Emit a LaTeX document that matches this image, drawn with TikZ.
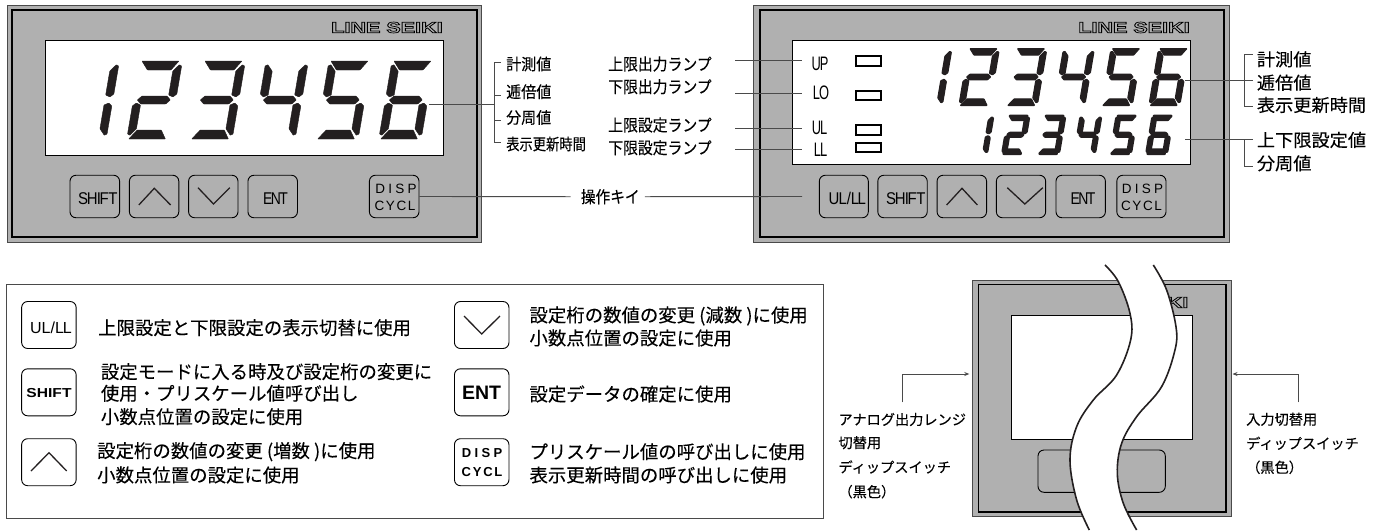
\documentclass[tikz,border=0pt]{standalone}
\usepackage{fontspec}
\usepackage{graphicx}
\usetikzlibrary{arrows.meta}
\setmainfont{Liberation Sans}
\newfontfamily\jpf[FakeBold=0.15]{Noto Sans CJK JP}
\newfontfamily\spA[LetterSpace=24]{Liberation Sans}
\newfontfamily\spB[LetterSpace=12]{Liberation Sans}
\newfontfamily\spAb[LetterSpace=26,BoldFont={Liberation Sans Bold}]{Liberation Sans}
\newfontfamily\spBb[LetterSpace=14,BoldFont={Liberation Sans Bold}]{Liberation Sans}
\definecolor{panelgray}{HTML}{B0B0B0}
\definecolor{ink}{HTML}{231F20}
\definecolor{rule}{HTML}{4A4A4A}
\newcommand\fsz[1]{\fontsize{#1}{#1}\selectfont}
\newcommand\hs[2]{\scalebox{#1}[1]{#2}}
\newcommand\outl[1]{\special{pdf:code 1 Tr 0.7 w}#1\special{pdf:code 0 Tr 0.4 w}}
\newcommand\brand[1]{\hs{1.4}{\outl{\fsz{15.4}\bfseries #1}}}
\newcommand\tightS{\hs{0.88}{\fsz{17}S\kern-1.4pt H\kern-0.8pt I\kern-1.6pt F\kern-0.6pt T}}
\newcommand\tightE{\hs{0.82}{\fsz{17}E\kern-2pt N\kern-2pt T}}
\newcommand\tightC[2]{\hs{0.66}{\fsz{19.5}#1\kern-1.5pt #2}}
\def\sega{(2,78)--(39,78)--(32.5,69)--(9,69)--cycle}
\def\segb{(42.5,73)--(42.5,45)--(39,42)--(34.5,44)--(34.5,67.7)--(40,74.3)--cycle}
\def\segc{(42.5,33)--(42.5,5)--(40,3.7)--(34.5,10.3)--(34.5,34)--(39,36)--cycle}
\def\segd{(2,0)--(38.7,0)--(33,9)--(9,9)--cycle}
\def\sege{(0,33)--(0,5)--(2.5,3.7)--(8,10.3)--(8,34)--(3.5,36)--cycle}
\def\segf{(0,73)--(0,45)--(3.5,42)--(8,44)--(8,67.7)--(2.5,74.3)--cycle}
\def\segg{(8,43)--(33,43)--(37,39)--(33,35)--(8,35)--(4,39)--cycle}
\newcommand\sevenseg[5]{%
  \pgfmathsetmacro\slantv{0.17*#3}%
  \begin{scope}[cm={#3,0,\slantv,#3,(#1,#2)},x=1pt,y=1pt]
    \foreach \s in {#4}{\filldraw[digitseg=#5] \csname seg\s\endcsname;}
  \end{scope}}
\newcommand\sixdigits[5]{% x of first, bottom y, scale, pitch, stroke
  \pgfmathsetmacro\xa{#1}\pgfmathsetmacro\xb{#1+#4}\pgfmathsetmacro\xc{#1+2*#4}%
  \pgfmathsetmacro\xd{#1+3*#4}\pgfmathsetmacro\xe{#1+4*#4}\pgfmathsetmacro\xf{#1+5*#4}%
  \sevenseg{\xa}{#2}{#3}{b,c}{#5}
  \sevenseg{\xb}{#2}{#3}{a,b,g,e,d}{#5}
  \sevenseg{\xc}{#2}{#3}{a,b,g,c,d}{#5}
  \sevenseg{\xd}{#2}{#3}{f,b,g,c}{#5}
  \sevenseg{\xe}{#2}{#3}{a,f,g,c,d}{#5}
  \sevenseg{\xf}{#2}{#3}{a,f,g,e,c,d}{#5}}
\tikzset{
  digitseg/.style={fill=ink,draw=ink,line width=#1,line join=round,rounded corners=0.5pt},
  shellout/.style={draw=rule,line width=0.8pt,fill=panelgray},
  shellin/.style={draw=black,line width=1.5pt,fill=panelgray},
  window/.style={draw=black,line width=1pt,fill=white},
  keybox/.style={draw=black,line width=0.9pt,rounded corners=6pt,inner sep=0pt,minimum width=#1,minimum height=42.5pt},
  keybig/.style={draw=black,line width=0.9pt,rounded corners=6pt,inner sep=0pt,minimum width=54.5pt,minimum height=47pt,fill=white},
  chev/.style={draw=ink,line width=1.3pt},
  lamp/.style={draw=black,line width=2pt,fill=white},
  lead/.style={draw=rule,line width=0.9pt},
  plain/.style={inner sep=0pt,anchor=center},
  lab/.style={inner sep=0pt,anchor=west,font=\jpf\fsz{#1}},
  lab/.default=16,
  wave/.style={draw=ink,line width=1.6pt},
  tip/.style={-{Stealth[length=5pt,width=4pt]}}
}
\begin{document}
\begin{tikzpicture}[x=1pt,y=-1pt]
\useasboundingbox (0,0) rectangle (1383,531);
\fill[white] (0,0) rectangle (1383,531);
% ---------- front panel 1
\draw[shellout] (7,5.5) rectangle (481.5,242);
\draw[shellin] (12,10) rectangle (477,237);
\draw[window] (45.7,40.7) rectangle (443,155);
\node[plain] (brandA) at (387,27.5) {\brand{LINE SEIKI}};
\sixdigits{63.7}{139}{1}{63}{0.4pt}
\node[keybox=49.6pt] (ka1) at (94.8,196.5) {};
\node[keybox=49.4pt] (ka2) at (154.1,196.5) {};
\node[keybox=49.4pt] (ka3) at (213.3,196.5) {};
\node[keybox=49.5pt] (ka4) at (272.7,196.5) {};
\node[keybox=49.6pt] (ka5) at (394.2,196.5) {};
\node[plain] (ta1) at (97.8,198.5) {\tightS};
\draw[chev] (138.8,205) -- (154.3,188.3) -- (170.6,205);
\draw[chev] (198,187.7) -- (213.5,204) -- (229.8,187.7);
\node[plain] (ta4) at (275.5,198.5) {\tightE};
\node[plain] (ta5a) at (396,189) {\spA\fsz{13.5}DISP};
\node[plain] (ta5b) at (395,205.5) {\spB\fsz{13.5}CYCL};
% right labels of panel 1
\coordinate (p1m) at (429,104);
\coordinate (p1b) at (494,104);
\draw[lead] (p1m) -- (p1b);
\draw[lead] (501,62.5) -- (494,62.5) -- (494,142.5) -- (501,142.5);
\draw[lead] (494,95) -- (501,95);
\draw[lead] (494,120) -- (501,120);
\node[lab] (a1) at (506,64) {\hs{0.94}{計測値}};
\node[lab] (a2) at (506,91.7) {\hs{0.94}{逓倍値}};
\node[lab] (a3) at (506,117.5) {\hs{0.94}{分周値}};
\node[lab] (a4) at (506,144) {\hs{0.83}{表示更新時間}};
% ---------- middle labels
\node[lab=16.5] (m1) at (608,64) {\hs{0.9}{上限出力ランプ}};
\node[lab=16.5] (m2) at (608,86.7) {\hs{0.9}{下限出力ランプ}};
\node[lab=16.5] (m3) at (608,125) {\hs{0.9}{上限設定ランプ}};
\node[lab=16.5] (m4) at (608,147.7) {\hs{0.9}{下限設定ランプ}};
\node[lab=16.5] (op) at (580.7,196.7) {\hs{0.89}{操作キイ}};
\draw[lead] (ka5.east) -- ([xshift=-10pt]op.west);
% ---------- front panel 2
\draw[shellout] (753.7,5.5) rectangle (1229,242);
\draw[shellin] (760,10) rectangle (1224,237);
\draw[window] (792.6,40.7) rectangle (1190.7,164);
\node[plain] (brandB) at (1134,27.5) {\brand{LINE SEIKI}};
\sixdigits{911.3}{105.5}{0.73}{47.5}{1pt}
\sixdigits{966.1}{153.9}{0.49}{36}{2.2pt}
\node[plain] (up) at (820,64) {\tightC{U}{P}};
\node[plain] (lo) at (821,92.3) {\tightC{L}{O}};
\node[plain] (ul) at (819.5,127.5) {\tightC{U}{L}};
\node[plain] (ll) at (820.5,149.3) {\tightC{L}{L}};
\draw[lamp] (855.5,55.5) rectangle (880.5,65.5);
\draw[lamp] (855.5,90.7) rectangle (880.5,100.3);
\draw[lamp] (855.5,125.3) rectangle (880.5,134.7);
\draw[lamp] (855.5,143) rectangle (880.5,152.4);
\coordinate (eu) at (735,60.7); \coordinate (eo) at (735,93.3);
\coordinate (el) at (735,128); \coordinate (ee) at (735,149.3);
\coordinate (fu) at (802,60.7); \coordinate (fo) at (802,93.3);
\coordinate (fl) at (802,128); \coordinate (fe) at (802,149.3);
\draw[lead] (eu) -- (fu); \draw[lead] (eo) -- (fo);
\draw[lead] (el) -- (fl); \draw[lead] (ee) -- (fe);
\node[keybox=49pt] (kb0) at (843.8,196.5) {};
\node[keybox=49.4pt] (kb1) at (902.5,196.5) {};
\node[keybox=49.5pt] (kb2) at (961.8,196.5) {};
\node[keybox=49.3pt] (kb3) at (1021,196.5) {};
\node[keybox=49.4pt] (kb4) at (1080.7,196.5) {};
\node[keybox=49.2pt] (kb5) at (1141.4,196.5) {};
\node[plain] (tb0) at (847.3,198.5) {\hs{0.88}{\fsz{17}U\kern-1pt L/L\kern-1.8pt L}};
\node[plain] (tb1) at (905.7,198.5) {\tightS};
\draw[chev] (946.6,205) -- (962,188.3) -- (977.4,205);
\draw[chev] (1007.3,187.7) -- (1024.8,204) -- (1042.8,187.7);
\node[plain] (tb4) at (1083,198.5) {\tightE};
\node[plain] (tb5a) at (1142.5,189) {\spA\fsz{13.5}DISP};
\node[plain] (tb5b) at (1141.5,205.5) {\spB\fsz{13.5}CYCL};
\coordinate (opend) at (802,196.5);
\draw[lead] ([xshift=5pt]op.east) -- (opend);
% right labels of panel 2
\coordinate (p2m) at (1185,80); \coordinate (p2b) at (1253,80);
\draw[lead] (p2m) -- (p2b);
\draw[lead] (1252.7,54) -- (1244,54) -- (1244,106.7) -- (1252.7,106.7);
\coordinate (p3m) at (1185,139); \coordinate (p3b) at (1253,139);
\draw[lead] (p3m) -- (p3b);
\draw[lead] (1244,139) -- (1244,166) -- (1252.7,166);
\node[lab=17.5] (b1) at (1256.7,59.3) {\hs{1.04}{計測値}};
\node[lab=17.5] (b2) at (1256.7,82.7) {\hs{1.04}{逓倍値}};
\node[lab=17.5] (b3) at (1256.7,105) {\hs{1.04}{表示更新時間}};
\node[lab=17.5] (b4) at (1256.7,140) {\hs{1.04}{上下限設定値}};
\node[lab=17.5] (b5) at (1256.7,163.3) {\hs{1.04}{分周値}};
% ---------- key legend
\draw[draw=rule,line width=1pt] (6.7,284) rectangle (823.3,518.3);
\node[keybig] (L1) at (48.9,325) {};
\node[keybig] (L2) at (48.9,392.3) {};
\node[keybig] (L3) at (48.9,462.2) {};
\node[keybig] (R1) at (481.7,325) {};
\node[keybig] (R2) at (481.7,392.3) {};
\node[keybig] (R3) at (481.7,462.2) {};
\node[plain] (LT1) at (51,328) {\hs{1}{\fsz{16}UL/L\kern-1pt L}};
\node[plain] (LT2) at (49,393) {\hs{1.2}{\fsz{13}\bfseries SHIFT}};
\draw[chev] (31,471) -- (49,452.7) -- (66.7,471);
\draw[chev] (464,316) -- (481.7,334) -- (500,316);
\node[plain] (RT2) at (481.5,393) {\fsz{19.5}\bfseries ENT};
\node[plain] (RT3a) at (482,453) {\spAb\fsz{13}\bfseries DISP};
\node[plain] (RT3b) at (482,472) {\spBb\fsz{13}\bfseries CYCL};
\node[lab=18.4] (t1) at (98,327.7) {上限設定と下限設定の表示切替に使用};
\node[lab=18.4] (t2) at (100.7,371.7) {設定モードに入る時及び設定桁の変更に};
\node[lab=18.4] (t3) at (100.7,393.3) {使用・プリスケール値呼び出し};
\node[lab=18.4] (t4) at (100.7,416.7) {小数点位置の設定に使用};
\node[lab=18.4] (t5) at (97,451.7) {設定桁の数値の変更 (増数 )に使用};
\node[lab=18.4] (t6) at (97,475) {小数点位置の設定に使用};
\node[lab=18.4] (t7) at (529.3,316) {設定桁の数値の変更 (減数 )に使用};
\node[lab=18.4] (t8) at (529.3,338) {小数点位置の設定に使用};
\node[lab=18.4] (t9) at (529.3,394) {設定データの確定に使用};
\node[lab=18.4] (t10) at (529.3,451.7) {プリスケール値の呼び出しに使用};
\node[lab=18.4] (t11) at (529.3,475) {表示更新時間の呼び出しに使用};
% ---------- rear view
\draw[shellout] (972.7,280) rectangle (1231.3,516.7);
\draw[shellin] (978.3,284.3) rectangle (1226,512);
\draw[window] (1011.7,315.7) rectangle (1192.3,439.3);
\draw[draw=black,line width=0.9pt,rounded corners=6pt] (1038,450) rectangle (1165.3,492.3);
\node[inner sep=0pt,anchor=east] (brandC) at (1188.5,302.5) {\brand{KI}};
\begin{scope}[shift={(860,250)},x=0.3333pt,y=-0.3333pt]
\fill[white] plot[smooth,tension=0.6] coordinates {(735,45) (775,95) (810,190) (812,270) (770,375) (700,450) (650,530) (630,630) (650,750) (688,840)}
  -- plot[smooth,tension=0.6] coordinates {(830,840) (790,760) (772,670) (785,580) (830,500) (905,410) (945,300) (948,230) (920,120) (880,45)} -- cycle;
\draw[wave] plot[smooth,tension=0.6] coordinates {(735,45) (775,95) (810,190) (812,270) (770,375) (700,450) (650,530) (630,630) (650,750) (688,840)};
\draw[wave] plot[smooth,tension=0.6] coordinates {(880,45) (920,120) (948,230) (945,300) (905,410) (830,500) (785,580) (772,670) (790,760) (830,840)};
\end{scope}
\coordinate (ls) at (902.3,402.3); \coordinate (lc) at (902.3,374); \coordinate (le) at (969.3,374);
\coordinate (rs) at (1298.7,402.3); \coordinate (rc) at (1298.7,374); \coordinate (re) at (1232.5,374);
\draw[lead,tip] (ls) -- (lc) -- (le);
\draw[lead,tip] (rs) -- (rc) -- (re);
\node[lab=14.2] (c1) at (838.3,419.5) {アナログ出力レンジ};
\node[lab=14.2] (c2) at (838.3,442.7) {切替用};
\node[lab=14.2] (c3) at (838.3,467) {ディップスイッチ};
\node[lab=14.2] (c4) at (838.3,491.7) {（黒色）};
\node[lab=14.2] (d1) at (1246,419.3) {入力切替用};
\node[lab=14.2] (d2) at (1246,443.3) {ディップスイッチ};
\node[lab=14.2] (d3) at (1246,467.3) {（黒色）};
\end{tikzpicture}
\end{document}
